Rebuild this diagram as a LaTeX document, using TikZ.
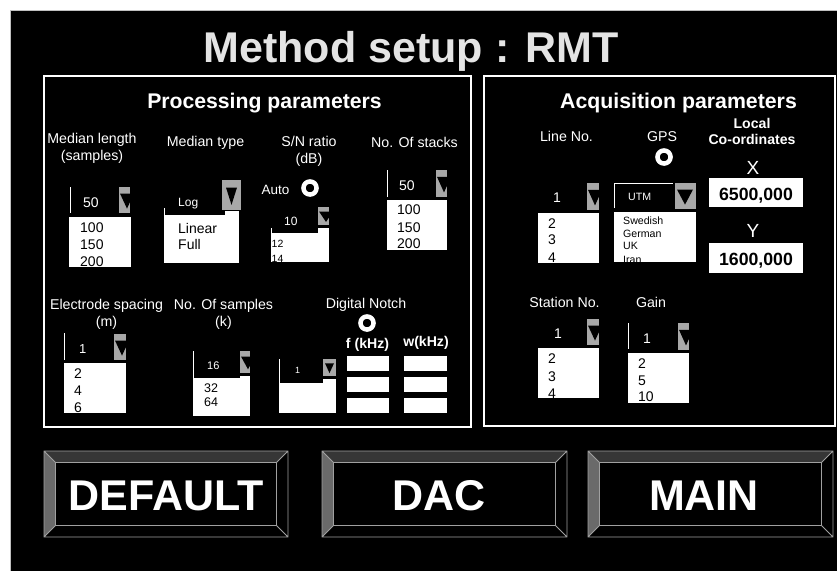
\documentclass[tikz,border=0pt]{standalone}
\usepackage{fontspec}
\setmainfont{Liberation Sans}
\usepackage{xcolor}
\definecolor{rmtgray}{HTML}{A8A8A8}
\definecolor{rmttitle}{HTML}{E4E4E4}
\definecolor{rmtbevtop}{HTML}{363636}
\definecolor{rmtbevleft}{HTML}{6A6A6A}
\definecolor{rmtedge}{HTML}{A0A0A0}
\usepackage{tikz}
\tikzset{
  rmtlabel/.style={text=white,inner sep=0pt,align=center,anchor=base,font=\fontsize{14.2}{16.5}\selectfont},
  rmtbold/.style={rmtlabel,font=\bfseries\fontsize{14.1}{16}\selectfont},
  rmthead/.style={text=white,inner sep=0pt,anchor=base,font=\bfseries\fontsize{21.2}{24}\selectfont},
  rmtvalue/.style={text=white,inner sep=0pt,anchor=base west},
  rmtitem/.style={text=black,inner sep=0pt,anchor=base west},
  rmtring/.style={circle,draw=white,line width=4.5pt,minimum size=13.1pt,inner sep=0pt},
  rmtpanel/.style={draw=white,line width=1.4pt},
  rmtfield/.style={fill=white,inner sep=0pt,anchor=north west},
  rmtedgeline/.style={white,line width=0.8pt},
}
% gray drop button: x1, y1, x2, y2, triangle left, triangle width
\newcommand{\rmtbtn}[6]{%
  \fill[rmtgray] (#1,#2) rectangle (#3,#4);
  \begin{scope}
    \clip (#1,#2) rectangle (#3,#4);
    \fill[black] (#5,{#2+0.25*(#4-#2)}) -- ({#5+#6},{#2+0.25*(#4-#2)})
      -- ({#5+0.5*#6},{#4-0.17*(#4-#2)}) -- cycle;
  \end{scope}}
% white list: name, x1, y1, x2, y2, text x, font size, items text/baseline
\newcommand{\rmtlist}[8]{%
  \fill[white] (#2,#3) rectangle (#4,#5);
  \begin{scope}
    \clip (#2,#3) rectangle (#4,#5);
    \foreach \itm/\bl [count=\i] in {#8}
      \node[rmtitem,font=\fontsize{#7}{#7}\selectfont] (#1-\i) at (#6,\bl) {\itm};
  \end{scope}}
% bevelled button: name, x1, y1, x2, y2, bevel, text, text x
\newcommand{\rmtbevel}[8]{%
  \fill[rmtbevtop] (#2,#3) -- (#4,#3) -- ({#4-#6},{#3+#6}) -- ({#2+#6},{#3+#6}) -- cycle;
  \fill[rmtbevleft] (#2,#3) -- ({#2+#6},{#3+#6}) -- ({#2+#6},{#5-#6}) -- (#2,#5) -- cycle;
  \draw[rmtedge,line width=0.8pt] (#2,#3) rectangle (#4,#5)
    ({#2+#6},{#3+#6}) rectangle ({#4-#6},{#5-#6})
    (#2,#3) -- ++(#6,#6) (#4,#3) -- ++(-#6,#6)
    (#2,#5) -- ++(#6,-#6) (#4,#5) -- ++(-#6,-#6);
  \node[text=white,inner sep=0pt,anchor=base,font=\bfseries\fontsize{43}{48}\selectfont]
    (#1) at (#8,{#5-27}) {#7};}

\begin{document}
\begin{tikzpicture}[x=1pt,y=-1pt]
\useasboundingbox (0,0) rectangle (837,571);
\fill[white] (0,0) rectangle (837,571);
\fill[black] (10,10) rectangle (837,571);
\draw[gray!50,line width=0.6pt] (10,571) -- (10,10) -- (837,10);

% title and panels
\node[text=rmttitle,inner sep=0pt,anchor=base,font=\bfseries\fontsize{43}{50}\selectfont]
  (title) at (411,62) {Method setup : RMT};
\draw[rmtpanel] (44,76) rectangle (471,427);
\draw[rmtpanel] (484,76) rectangle (835,426);

% processing parameters
\node[rmthead] (proc) at (264.5,108) {Processing parameters};
\node[rmtlabel] (mlen) at (92,160) {Median length\\(samples)};
\node[rmtlabel] (mtype) at (205.5,146) {Median type};
\node[rmtlabel] (snr) at (309,163) {S/N ratio\\(dB)};
\node[rmtlabel] (nstk) at (414.5,147) {No. Of stacks};
\node[rmtlabel,font=\fontsize{13.5}{16}\selectfont] (auto) at (275.5,194) {Auto};
\node[rmtring] (autoring) at (310,188) {};

\rmtlist{mlen}{69}{217}{131}{267}{80}{14}{100/232,150/249,200/266}
\draw[rmtedgeline] (70,187) -- (70,213);
\node[rmtvalue,font=\fontsize{14}{16}\selectfont] (mlenval) at (83,207) {50};
\rmtbtn{119}{187}{130}{213}{120}{14}

\rmtlist{mtype}{164}{211}{239}{263}{178}{14}{Linear/233,Full/249}
\fill[black] (165,195) rectangle (225,215);
\draw[rmtedgeline] (164.4,208) -- (164.4,215);
\node[rmtvalue,font=\fontsize{12}{14}\selectfont] (mtypeval) at (178,206) {Log};
\rmtbtn{222}{180}{241}{210}{226}{11}

\rmtlist{snr}{271}{228}{329}{262}{271.5}{10.5}{12/247,14/262}
\fill[black] (272,215) rectangle (318,233);
\draw[rmtedgeline] (271.4,228) -- (271.4,233);
\node[rmtvalue,font=\fontsize{12}{14}\selectfont] (snrval) at (284,225) {10};
\rmtbtn{318}{207}{329}{225}{319}{14}

\rmtlist{nstk}{387}{200}{447}{250}{397}{14}{100/214,150/232,200/248}
\draw[rmtedgeline] (387.4,170) -- (387.4,197);
\node[rmtvalue,font=\fontsize{14}{16}\selectfont] (nstkval) at (399,190) {50};
\rmtbtn{436}{170}{447}{197}{437}{14}

\node[rmtlabel] (espc) at (106.5,326) {Electrode spacing\\(m)};
\node[rmtlabel] (nsmp) at (223.5,326) {No. Of samples\\(k)};

\rmtlist{espc}{64}{363}{126}{413}{74}{14}{2/378,4/395,6/412}
\draw[rmtedgeline] (64.4,333) -- (64.4,360);
\node[rmtvalue,font=\fontsize{13}{15}\selectfont] (espcval) at (79,353) {1};
\rmtbtn{114}{334}{126}{360}{115}{14}

\rmtlist{nsmp}{193}{376}{250}{416}{204}{12.5}{32/392,64/406}
\fill[black] (194,360) rectangle (240,378);
\draw[rmtedgeline] (193.4,351) -- (193.4,378);
\node[rmtvalue,font=\fontsize{11}{13}\selectfont] (nsmpval) at (207,369) {16};
\rmtbtn{240}{351}{250}{373}{241}{14}

% digital notch
\node[rmtlabel] (notch) at (366,308) {Digital Notch};
\node[rmtring] (notchring) at (367,323) {};
\node[rmtbold] (fkhz) at (367.5,348) {f (kHz)};
\node[rmtbold] (wkhz) at (426,346) {w(kHz)};
\foreach \y [count=\i] in {356,377,398} {
  \node[rmtfield,minimum width=42pt,minimum height=15pt] (fbox\i) at (347,\y) {};
  \node[rmtfield,minimum width=43pt,minimum height=15pt] (wbox\i) at (404,\y) {};
}
\fill[white] (279,379) rectangle (336,413);
\fill[black] (280,365) rectangle (323,383);
\draw[rmtedgeline] (279.4,359) -- (279.4,383);
\node[rmtvalue,font=\fontsize{9}{11}\selectfont] (notchval) at (295,373) {1};
\rmtbtn{323}{359}{336}{376}{325}{9}

% acquisition parameters
\node[rmthead,font=\bfseries\fontsize{21.3}{24}\selectfont] (acq) at (678.5,108) {Acquisition parameters};
\node[rmtlabel] (line) at (566.5,141) {Line No.};
\node[rmtlabel] (gps) at (662,141) {GPS};
\node[rmtring] (gpsring) at (664,157) {};
\node[rmtbold] (local) at (752,144) {Local\\Co-ordinates};
\node[rmtlabel,font=\fontsize{19}{22}\selectfont] (xlab) at (753,174) {X};
\node[rmtfield,minimum width=94pt,minimum height=29pt] (xbox) at (709,178) {};
\node[rmtlabel,text=black,font=\bfseries\fontsize{17.7}{20}\selectfont] (xval) at (756,200) {6500,000};
\node[rmtlabel,font=\fontsize{19}{22}\selectfont] (ylab) at (753,237) {Y};
\node[rmtfield,minimum width=94pt,minimum height=30pt] (ybox) at (709,243) {};
\node[rmtlabel,text=black,font=\bfseries\fontsize{17.7}{20}\selectfont] (yval) at (756,265) {1600,000};

\rmtlist{line}{538}{213}{599}{263}{548}{14}{2/228,3/244,4/262}
\node[rmtvalue,font=\fontsize{14}{16}\selectfont] (lineval) at (553,202) {1};
\rmtbtn{587}{183}{599}{210}{588}{14}

\rmtlist{gps}{614}{212}{696}{262}{623}{10.6}{Swedish/224,German/237,UK/249,Iran/263}
\draw[rmtedgeline] (614.4,208) -- (614.4,183.4) -- (673,183.4);
\node[rmtvalue,font=\fontsize{10.6}{12}\selectfont] (gpsval) at (628,200) {UTM};
\rmtbtn{675}{183}{696}{209}{677}{16}

\node[rmtlabel] (stn) at (564.5,307) {Station No.};
\node[rmtlabel] (gain) at (651,307) {Gain};

\rmtlist{stn}{538}{348}{599}{398}{548}{14}{2/363,3/381,4/398}
\node[rmtvalue,font=\fontsize{14}{16}\selectfont] (stnval) at (554,338) {1};
\rmtbtn{587}{319}{599}{345}{588}{14}

\rmtlist{gain}{628}{353}{689}{403}{638}{14}{2/368,5/385,10/401}
\draw[rmtedgeline] (628.4,323) -- (628.4,349);
\node[rmtvalue,font=\fontsize{14}{16}\selectfont] (gainval) at (643,343) {1};
\rmtbtn{678}{323}{689}{350}{679}{14}

% buttons
\rmtbevel{default}{44}{451}{288}{537}{11.5}{DEFAULT}{166}
\rmtbevel{dac}{322}{451}{567}{537}{11.5}{DAC}{439}
\rmtbevel{main}{588}{451}{833}{537}{11.5}{MAIN}{704}
\end{tikzpicture}
\end{document}
